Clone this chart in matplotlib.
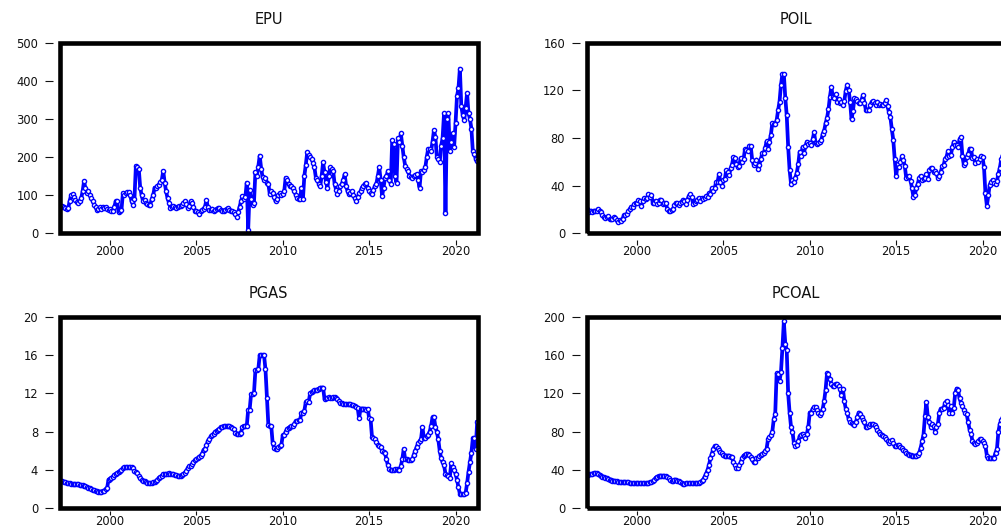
import numpy as np
import matplotlib
matplotlib.use("Agg")
import matplotlib.pyplot as plt
from matplotlib.patches import Rectangle

# monthly series, 1997M01 - 2021M04 (one row per year)
epu = [
    75, 71, 68, 72, 70, 66, 63, 66, 85, 100, 102, 95,
    88, 82, 80, 85, 92, 110, 137, 118, 105, 110, 100, 92,
    85, 75, 68, 62, 65, 68, 65, 70, 66, 68, 64, 62,
    64, 60, 60, 70, 84, 84, 55, 58, 62, 106, 100, 105,
    108, 108, 100, 84, 75, 90, 177, 175, 170, 120, 100, 84,
    88, 80, 78, 75, 75, 90, 100, 120, 118, 125, 128, 135,
    140, 164, 133, 110, 92, 80, 67, 70, 72, 70, 67, 70,
    72, 71, 75, 80, 84, 78, 67, 72, 84, 80, 70, 60,
    58, 55, 51, 58, 62, 65, 70, 88, 68, 62, 62, 65,
    60, 62, 64, 66, 67, 62, 58, 60, 62, 64, 67, 62,
    60, 58, 56, 52, 44, 55, 70, 84, 98, 90, 95, 133,
    10, 115, 90, 75, 80, 160, 150, 175, 204, 170, 147, 140,
    146, 133, 130, 102, 110, 106, 95, 84, 90, 100, 106, 100,
    102, 110, 146, 140, 130, 125, 124, 118, 111, 100, 93, 89,
    89, 120, 89, 151, 180, 213, 205, 200, 196, 185, 173, 146,
    140, 130, 124, 150, 186, 160, 135, 120, 150, 173, 168, 164,
    130, 115, 102, 110, 124, 130, 140, 155, 125, 110, 102, 105,
    111, 100, 92, 84, 95, 105, 110, 120, 125, 130, 133, 118,
    110, 105, 102, 115, 124, 130, 150, 173, 140, 98, 120, 146,
    150, 164, 140, 130, 244, 235, 150, 133, 250, 240, 262, 230,
    200, 178, 170, 164, 150, 148, 146, 150, 152, 155, 140, 120,
    164, 160, 165, 173, 200, 222, 220, 217, 240, 271, 253, 200,
    195, 187, 230, 250, 315, 53, 300, 315, 217, 240, 262, 226,
    290, 360, 380, 432, 333, 310, 297, 330, 368, 315, 300, 275,
    215, 209, 195, 191,
]

poil = [
    21.5, 20.5, 19.2, 17.6, 19.2, 17.7, 19.1, 19.0, 19.0, 20.5, 19.2, 17.6,
    15.4, 14.1, 13.3, 13.4, 14.4, 12.1, 12.0, 11.9, 13.4, 12.7, 10.9, 9.8,
    11.1, 10.3, 12.5, 15.2, 15.3, 15.9, 19.0, 20.2, 22.4, 21.9, 24.5, 25.6,
    25.5, 27.8, 27.5, 22.7, 27.4, 29.7, 28.6, 30.1, 32.8, 30.9, 32.6, 25.4,
    25.6, 27.5, 24.5, 25.6, 28.4, 27.7, 24.5, 25.7, 25.6, 20.5, 18.8, 18.7,
    19.4, 20.3, 23.7, 25.7, 25.4, 24.1, 25.7, 26.6, 28.3, 27.5, 24.3, 28.3,
    31.2, 32.8, 30.3, 25.0, 25.8, 27.6, 28.4, 29.8, 27.1, 29.6, 28.8, 29.8,
    31.3, 30.9, 33.8, 33.4, 37.9, 35.2, 38.4, 43.0, 43.3, 49.8, 43.1, 39.6,
    44.5, 45.5, 53.1, 51.9, 49.0, 54.5, 57.6, 64.1, 62.9, 58.5, 55.5, 56.8,
    63.1, 59.9, 62.3, 70.4, 70.2, 68.9, 73.7, 73.2, 61.9, 57.8, 58.8, 62.0,
    54.3, 57.8, 62.1, 67.4, 67.5, 71.3, 77.2, 70.8, 77.1, 82.7, 92.5, 91.5,
    91.9, 94.8, 103.3, 110.4, 124.6, 133.5, 133.9, 113.8, 99.1, 72.8, 53.2, 41.6,
    44.9, 43.2, 46.8, 50.9, 57.9, 68.6, 64.9, 72.5, 67.7, 73.2, 77.0, 74.7,
    76.2, 73.8, 78.8, 84.8, 75.9, 74.8, 75.6, 77.1, 78.2, 83.5, 86.1, 92.4,
    96.9, 104.0, 114.6, 123.1, 114.5, 113.9, 116.7, 110.2, 112.8, 109.6, 110.5, 107.9,
    111.2, 119.7, 124.9, 120.5, 110.5, 95.6, 102.8, 113.2, 113.0, 111.5, 109.5, 109.2,
    112.3, 116.1, 109.5, 103.3, 103.3, 103.3, 107.4, 110.3, 111.2, 109.5, 107.8, 110.6,
    107.4, 108.8, 107.7, 108.1, 109.2, 111.9, 106.7, 101.6, 97.3, 87.3, 78.4, 62.3,
    47.8, 58.1, 55.9, 59.5, 64.6, 61.7, 56.5, 46.5, 47.6, 48.4, 44.3, 38.0,
    30.7, 32.2, 38.2, 41.6, 46.7, 48.3, 44.9, 45.8, 46.6, 49.7, 45.9, 53.3,
    54.6, 54.9, 51.6, 52.3, 50.3, 46.4, 48.5, 51.7, 56.2, 57.5, 62.7, 64.4,
    69.1, 65.3, 66.0, 72.1, 76.9, 74.4, 74.3, 72.5, 78.9, 81.0, 64.8, 57.4,
    59.4, 64.1, 66.4, 71.2, 70.5, 63.3, 64.0, 59.3, 62.3, 59.6, 62.7, 65.2,
    63.7, 55.5, 33.7, 23.2, 32.1, 40.8, 43.2, 45.0, 41.9, 41.4, 43.9, 50.2,
    54.8, 62.3, 65.7, 65.3,
]

pgas = [
    2.95, 2.9, 2.85, 2.8, 2.75, 2.7, 2.65, 2.6, 2.6, 2.55, 2.55, 2.5,
    2.5, 2.5, 2.5, 2.45, 2.45, 2.4, 2.35, 2.3, 2.2, 2.15, 2.1, 2.0,
    1.95, 1.9, 1.85, 1.8, 1.75, 1.75, 1.75, 1.8, 1.85, 2.0, 2.1, 3.0,
    3.1, 3.2, 3.3, 3.5, 3.6, 3.7, 3.8, 3.9, 4.0, 4.2, 4.3, 4.3,
    4.3, 4.3, 4.3, 4.3, 4.2, 3.9, 3.8, 3.7, 3.4, 3.2, 3.0, 2.9,
    2.8, 2.7, 2.6, 2.6, 2.6, 2.6, 2.7, 2.7, 2.8, 3.0, 3.2, 3.3,
    3.4, 3.6, 3.6, 3.6, 3.6, 3.7, 3.6, 3.6, 3.6, 3.5, 3.5, 3.4,
    3.4, 3.4, 3.5, 3.6, 3.7, 3.9, 4.2, 4.4, 4.4, 4.6, 4.8, 5.0,
    5.1, 5.2, 5.4, 5.5, 5.7, 6.1, 6.2, 6.6, 7.0, 7.2, 7.5, 7.6,
    7.8, 8.0, 8.1, 8.2, 8.3, 8.5, 8.5, 8.6, 8.6, 8.6, 8.6, 8.6,
    8.5, 8.4, 8.3, 7.9, 7.8, 7.8, 7.8, 7.9, 8.5, 8.6, 8.6, 8.6,
    10.3, 10.3, 11.9, 11.9, 12.0, 14.4, 14.4, 14.5, 16.0, 16.0, 16.0, 16.0,
    14.5, 11.5, 8.7, 8.6, 8.6, 6.8, 6.3, 6.2, 6.2, 6.4, 6.5, 6.6,
    7.6, 7.6, 8.0, 8.3, 8.4, 8.5, 8.6, 8.6, 8.8, 9.1, 9.1, 9.2,
    9.2, 10.0, 10.0, 10.2, 11.1, 11.2, 11.1, 12.0, 12.1, 12.2, 12.3, 12.3,
    12.4, 12.5, 12.6, 12.6, 12.6, 11.4, 11.5, 11.5, 11.6, 11.5, 11.5, 11.6,
    11.6, 11.5, 11.4, 11.2, 11.0, 11.0, 10.9, 10.9, 10.9, 10.9, 10.9, 10.9,
    10.8, 10.8, 10.7, 10.6, 10.5, 9.4, 10.4, 10.4, 10.4, 10.4, 10.3, 10.4,
    9.4, 9.3, 7.4, 7.3, 7.2, 6.9, 6.6, 6.5, 6.4, 6.0, 5.9, 5.8,
    5.1, 4.5, 4.1, 4.0, 4.0, 4.0, 4.1, 4.1, 4.0, 4.0, 4.4, 5.1,
    6.2, 5.1, 5.1, 5.0, 5.0, 5.0, 5.1, 5.6, 6.0, 6.4, 6.8, 7.0,
    7.2, 8.5, 7.3, 7.3, 7.5, 7.7, 8.0, 8.6, 9.5, 9.5, 8.5, 8.0,
    7.2, 6.0, 5.2, 4.8, 4.5, 3.6, 3.5, 3.4, 3.2, 4.7, 4.3, 4.0,
    3.6, 3.0, 2.2, 1.5, 1.5, 1.5, 1.5, 1.6, 2.6, 3.8, 4.8, 5.8,
    7.3, 7.3, 6.2, 9.0,
]

pcoal = [
    35, 35, 35, 36, 36, 36, 37, 37, 37, 36, 35, 34,
    33, 33, 32, 32, 31, 30, 30, 29, 29, 28, 28, 27,
    27, 27, 27, 27, 27, 27, 27, 26.5, 26.5, 26.5, 26.5, 26,
    26, 26, 26, 26, 26, 26, 26, 26, 26.5, 27, 27, 28,
    30, 32, 33, 33.5, 34, 34, 34, 34, 33.5, 33, 32, 30,
    28, 29, 30, 30, 29, 28, 27, 26, 25, 25.5, 26, 26,
    26, 26.5, 26.5, 26.5, 26, 26, 26, 26, 27, 28, 30, 33,
    36, 40, 45, 52, 57, 62, 65, 65, 63, 61, 59, 58,
    56, 55, 55, 55, 55, 54, 54, 48, 45, 42, 42, 45,
    48, 52, 55, 56, 57, 57, 56, 54, 51, 48, 48, 52,
    53, 55, 56, 57, 58, 60, 62, 72, 74, 76, 80, 93,
    98, 141, 140, 133, 142, 167, 195, 172, 165, 120, 100, 85,
    80, 68, 65, 66, 70, 75, 77, 78, 75, 73, 78, 85,
    100, 100, 104, 106, 106, 103, 100, 97, 100, 104, 112, 124,
    141, 140, 135, 130, 128, 128, 130, 130, 128, 125, 118, 125,
    112, 104, 100, 93, 90, 89, 88, 87, 90, 95, 100, 98,
    95, 92, 90, 85, 85, 86, 88, 88, 88, 87, 85, 82,
    80, 78, 77, 75, 74, 72, 70, 68, 70, 71, 68, 65,
    65, 66, 66, 64, 63, 61, 60, 58, 57, 56, 56, 55,
    55, 55, 55, 56, 58, 63, 70, 77, 96, 111, 95, 90,
    85, 88, 86, 80, 85, 88, 100, 104, 104, 105, 110, 112,
    108, 100, 107, 100, 105, 120, 125, 123, 115, 110, 107, 103,
    100, 98, 90, 82, 78, 70, 68, 67, 68, 70, 72, 72,
    70, 68, 65, 55, 53, 52, 52, 52, 53, 58, 62, 80,
    88, 92, 95, 98,
]

titles = ['EPU', 'POIL', 'PGAS', 'PCOAL']
yticks = [
    [0, 100, 200, 300, 400, 500],
    [0, 40, 80, 120, 160],
    [0, 4, 8, 12, 16, 20],
    [0, 40, 80, 120, 160, 200],
]
xticks = [2000, 2005, 2010, 2015, 2020]
start_year = 1997

plt.rcParams['font.family'] = 'DejaVu Sans'

W, H = 1001, 529
fig = plt.figure(figsize=(W / 100, H / 100), dpi=100)

# panel boxes in pixels: left, top, right, bottom (right column runs off the page)
boxes = [(59.5, 42.7, 477.5, 233.4), (586.5, 42.7, 1004.5, 233.4),
         (59.5, 316.7, 477.5, 508.3), (586.5, 316.7, 1004.5, 508.3)]

for i, (series, title, yt, (l, t, r, b)) in enumerate(
        zip([epu, poil, pgas, pcoal], titles, yticks, boxes)):
    ax = fig.add_axes([l / W, 1 - b / H, (r - l) / W, (b - t) / H])
    x = start_year + np.arange(len(series)) / 12
    ax.plot(x, series, color='#0000ff', lw=2.7, marker='o', ms=3,
            mfc='white', mec='#0000ff', mew=1.0, zorder=2)
    ax.set_xlim(1997.08, 2021.27)
    ax.set_ylim(yt[0], yt[-1])
    ax.set_xticks(xticks)
    ax.set_yticks(yt)

    # detached ticks, heavy frame drawn separately
    bottom_row = i >= 2
    ax.spines['left'].set_position(('outward', 4.9))
    ax.spines['bottom'].set_position(('outward', 2.0 if bottom_row else 4.4))
    for s in ax.spines.values():
        s.set_visible(False)
    ax.add_patch(Rectangle((0, 0), 1, 1, transform=ax.transAxes, fill=False,
                           lw=3.3, ec='black', clip_on=False, zorder=5))
    ax.tick_params(axis='y', direction='out', length=5.5, width=0.8, pad=5,
                   labelsize=8.3, colors='#111111')
    ax.tick_params(axis='x', direction='out', length=3.0 if bottom_row else 3.4,
                   width=0.8, pad=0.0 if bottom_row else 0.8,
                   labelsize=8.3, colors='#111111')
    ax.set_title(title, fontsize=10.5, pad=13.5, color='#111111')

fig.savefig('out.png', dpi=100)
